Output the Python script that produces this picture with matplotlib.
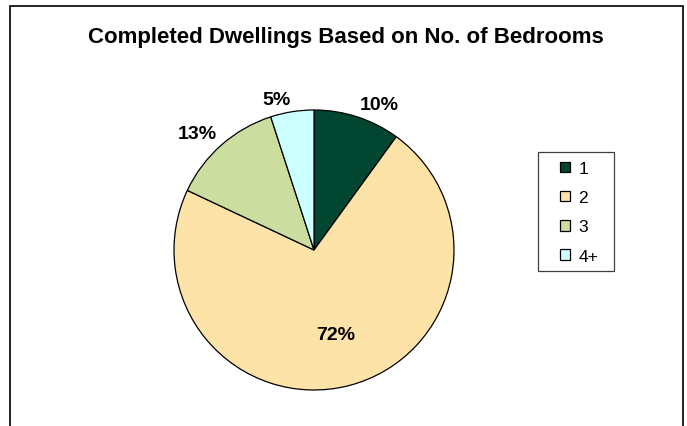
import numpy as np
import matplotlib.pyplot as plt
from matplotlib.patches import Rectangle

plt.rcParams['font.family'] = ['Liberation Sans', 'DejaVu Sans']

title = 'Completed Dwellings Based on No. of Bedrooms'
bedrooms = ['1', '2', '3', '4+']
shares = [10, 72, 13, 5]
colors = ['#004630', '#FDE3A8', '#CCDDA0', '#CCFFFF']
inside = [False, True, False, False]

W, H = 687, 427
fig = plt.figure(figsize=(W / 100, H / 100), dpi=100)

# outer chart border (bottom runs off the image)
fig.patches.append(Rectangle((10 / W, -0.05), 673 / W, 1.05 - 7 / H,
                             transform=fig.transFigure, fill=False,
                             edgecolor='black', linewidth=1.2))

fig.text(346 / W, 1 - 37 / H, title, ha='center', va='center',
         fontsize=16, fontweight='bold')

cx, cy, r = 314, 251, 140
ax = fig.add_axes([(cx - r) / W, (H - cy - r) / H, 2 * r / W, 2 * r / H])
wedges, _ = ax.pie(shares, colors=colors, startangle=90, counterclock=False,
                   wedgeprops=dict(edgecolor='black', linewidth=0.9))
ax.set_xlim(-1, 1)
ax.set_ylim(-1, 1)
ax.set_aspect('equal')
ax.axis('off')

# excel style: outside labels sit with their nearest corner just past the rim
for w, s, ins in zip(wedges, shares, inside):
    ang = np.deg2rad((w.theta1 + w.theta2) / 2)
    c, sn = np.cos(ang), np.sin(ang)
    if ins:
        ax.text(0.62 * c, 0.62 * sn, f'{s}%', ha='center', va='center',
                fontsize=14, fontweight='bold')
    else:
        ax.text(1.05 * c, 1.03 * sn, f'{s}%',
                ha='left' if c > 0 else 'right',
                va='bottom' if sn > 0 else 'top',
                fontsize=14, fontweight='bold', clip_on=False)

fig.patches.append(Rectangle((538 / W, 1 - 272 / H), 76 / W, 119 / H,
                             transform=fig.transFigure, fill=False,
                             edgecolor='#404040', linewidth=0.9))
fig.legend(wedges, bedrooms, loc='upper left',
           bbox_to_anchor=(560 / W, 1 - 162 / H), fontsize=12.5,
           frameon=False, handlelength=0.55, handleheight=0.55,
           handletextpad=0.5, labelspacing=0.82, borderpad=0,
           borderaxespad=0)

fig.savefig('out.png', dpi=100)
